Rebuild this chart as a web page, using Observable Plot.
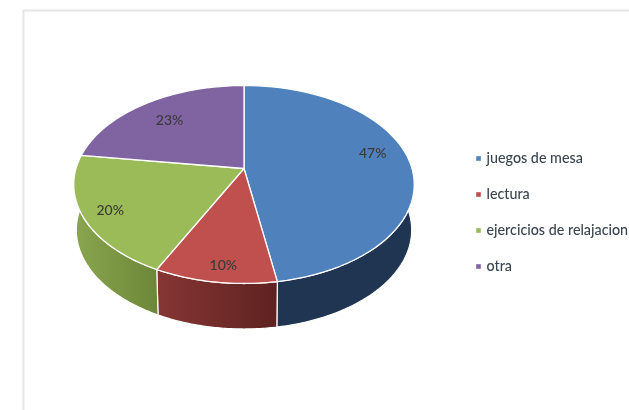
<!DOCTYPE html>
<html>
<head>
<meta charset="utf-8">
<script src="https://cdn.jsdelivr.net/npm/d3@7"></script>
<script src="https://cdn.jsdelivr.net/npm/@observablehq/plot@0.6"></script>
<style>
html,body{margin:0;padding:0;background:#fff;overflow:hidden}
svg{display:block;filter:blur(0.7px)}
</style>
</head>
<body>
<div id="chart"></div>
<script>
const categories = ["juegos de mesa", "lectura", "ejercicios de relajacion", "otra"];
const values = [47, 10, 20, 23];
const topColors = ["#4f81bd", "#c0504d", "#9bbb59", "#8064a2"];
const wallFrom = ["#1f3552", "#863634", "#8aa64f", "#5f4a7a"];
const wallTo = ["#1f3552", "#5e2220", "#6c8738", "#4a3a60"];
const labelRadius = [0.8, 0.87, 0.85, 0.72];
const labelTurn = [-6.5, -1.4, -1.2, -1];

// perspective pie geometry
const W = 629, H = 410;
const cx = 243.5, cy = 168, rx = 168, ry = 96.4, k = 0.1616;
const depth = 45.5, baseScale = 0.985;
const warp = 1.2 * Math.PI / 180;
const project = (t, r = 1, s = 1, dy = 0) => {
  const w = t + warp * Math.sin(t / 2);
  const u = Math.sin(w) * r, v = Math.cos(w) * r, d = 1 + k * v;
  return {x: cx + s * rx * u / d, y: cy + dy - ry * v / d};
};

const total = d3.sum(values);
const cum = d3.cumsum(values);
const ends = Array.from(cum, c => c / total * 2 * Math.PI);
const starts = ends.map((e, i) => (i ? ends[i - 1] : 0));
const arc = (a, b) => d3.range(0, 61).map(j => a + (b - a) * j / 60);

const tops = values.map((_, i) => [{x: cx, y: cy}, ...arc(starts[i], ends[i]).map(t => project(t)), {x: cx, y: cy}]);
// the wall is visible on the near half of the rim only
const rimA = Math.PI * 0.45, rimB = Math.PI * 1.55;
const walls = values.map((_, i) => {
  const a = Math.max(starts[i], rimA), b = Math.min(ends[i], rimB);
  if (a >= b) return null;
  const ts = arc(a, b);
  const up = ts.map(t => project(t));
  const low = ts.map(t => project(t, 1, baseScale, depth)).reverse();
  return [...up, ...low, up[0]];
});
const labels = values.map((v, i) => {
  const mid = (starts[i] + ends[i]) / 2 + labelTurn[i] * Math.PI / 180;
  return {...project(mid, labelRadius[i]), text: v + "%"};
});

const legendY = [158, 194, 230, 266];
const legend = categories.map((c, i) => ({c, y: legendY[i], color: topColors[i]}));
const frameColor = "#e6e6e6";
const font = "Lato, 'Open Sans', sans-serif";

const svg = Plot.plot({
  width: W, height: H,
  margin: 0,
  style: {background: "#fff", fontFamily: font},
  x: {domain: [0, W], range: [0, W], axis: null},
  y: {domain: [0, H], range: [0, H], axis: null},
  marks: [
    Plot.ruleX([23], {y1: 10, y2: H, stroke: frameColor, strokeWidth: 2}),
    Plot.ruleY([10], {x1: 23, x2: W, stroke: frameColor, strokeWidth: 2}),
    ...walls.map((w, i) => w && Plot.line(w, {x: "x", y: "y", fill: `url(#wall${i})`, stroke: "#fff", strokeWidth: 1.2, curve: "linear"})),
    ...tops.map((t, i) => Plot.line(t, {x: "x", y: "y", fill: topColors[i], stroke: "#fff", strokeWidth: 1.3, curve: "linear"})),
    Plot.text(labels, {x: "x", y: "y", text: "text", fill: "#3a3a3a", fontSize: 14, fontWeight: 500}),
    Plot.dot(legend, {x: () => 478, y: "y", fill: "color", symbol: "square", r: 2.6}),
    Plot.text(legend, {x: () => 486, y: "y", text: "c", textAnchor: "start", fill: "#3a4550", fontSize: 14.3, fontWeight: 500})
  ].filter(Boolean)
});

const defs = d3.select(svg).insert("defs", ":first-child");
values.forEach((_, i) => {
  const g = defs.append("linearGradient").attr("id", `wall${i}`).attr("x1", 0).attr("x2", 1).attr("y1", 0).attr("y2", 0);
  g.append("stop").attr("offset", 0).attr("stop-color", wallFrom[i]);
  g.append("stop").attr("offset", 1).attr("stop-color", wallTo[i]);
});
document.getElementById("chart").append(svg);
</script>
</body>
</html>
